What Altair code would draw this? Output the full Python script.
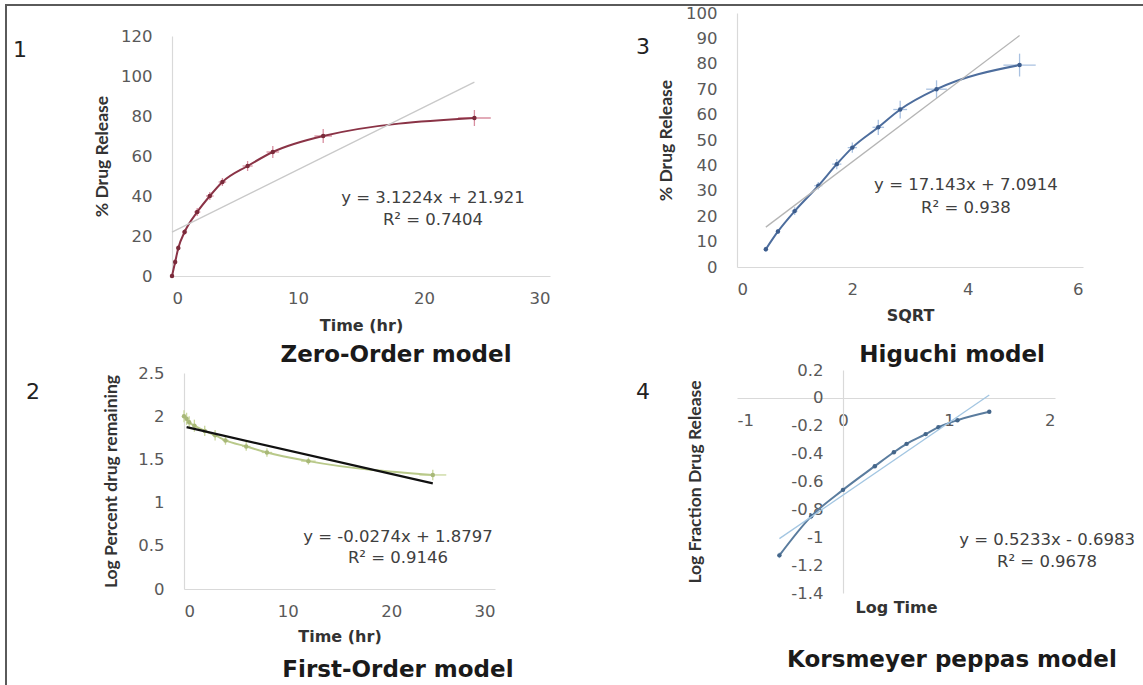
import altair as alt
import pandas as pd

W, H = 1143, 685

# ---------------- data ----------------
# Panel 1 : Zero-order model
time_hr = [0, 0.25, 0.5, 1, 2, 3, 4, 6, 8, 12, 24]
release_pct = [0, 7, 14, 22, 32, 40, 47, 55, 62, 70, 79]
release_err = [1.0, 1.5, 1.5, 1.5, 2.0, 2.0, 2.0, 2.5, 3.0, 3.5, 4.0]
time_err = [0.15, 0.15, 0.15, 0.2, 0.25, 0.3, 0.3, 0.4, 0.5, 0.7, 1.3]
zero_fit_x = [0, 24]
zero_fit_y = [21.9, 96.9]
zero_x_ticks = [0, 10, 20, 30]
zero_y_ticks = [0, 20, 40, 60, 80, 100, 120]

# Panel 2 : First-order model
log_remaining = [2.00, 1.97, 1.93, 1.89, 1.83, 1.78, 1.72, 1.65, 1.58, 1.48, 1.32]
log_remaining_err = [0.07, 0.07, 0.07, 0.07, 0.06, 0.06, 0.05, 0.05, 0.05, 0.04, 0.06]
first_fit_x = [0.25, 24]
first_fit_y = [1.873, 1.222]
first_x_ticks = [0, 10, 20, 30]
first_y_ticks = [0, 0.5, 1, 1.5, 2, 2.5]

# Panel 3 : Higuchi model
sqrt_time = [0.5, 0.71, 1.0, 1.41, 1.73, 2.0, 2.45, 2.83, 3.46, 4.9]
higuchi_release = [7, 14, 22, 32, 40.5, 47, 55, 62, 70, 79.5]
higuchi_err = [1.0, 1.0, 1.5, 1.5, 2.0, 2.0, 3.0, 3.5, 3.5, 4.5]
sqrt_err = [0.03, 0.03, 0.05, 0.07, 0.08, 0.08, 0.1, 0.12, 0.18, 0.28]
higuchi_fit_x = [0.5, 4.9]
higuchi_fit_y = [15.7, 91.1]
higuchi_x_ticks = [0, 2, 4, 6]
higuchi_y_ticks = [0, 10, 20, 30, 40, 50, 60, 70, 80, 90, 100]

# Panel 4 : Korsmeyer-Peppas model
log_time = [-0.60, -0.30, 0.0, 0.30, 0.48, 0.60, 0.78, 0.90, 1.08, 1.38]
log_fraction = [-1.13, -0.85, -0.66, -0.49, -0.39, -0.33, -0.26, -0.21, -0.16, -0.10]
log_fraction_err = [0.02, 0.02, 0.015, 0.01, 0.01, 0.01, 0.01, 0.01, 0.01, 0.01]
kp_fit_x = [-0.60, 1.38]
kp_fit_y = [-1.01, 0.02]
kp_x_ticks = [-1, 0, 1, 2]
kp_y_ticks = [-1.4, -1.2, -1, -0.8, -0.6, -0.4, -0.2, 0, 0.2]

# ---------------- styling ----------------
LABEL_FONT = "DejaVu Sans"
TITLE_FONT = "DejaVu Sans"
VTITLE_FONT = "Lato"
LABEL_EXPR = "'' + datum.value"


def xaxis(ticks, offset, title, title_y):
    return alt.Axis(values=ticks, orient="bottom", offset=offset, title=title,
                    labelExpr=LABEL_EXPR, titleY=title_y, titleBaseline="middle",
                    titleFont=TITLE_FONT, titleFontSize=16, titleFontWeight="bold",
                    titleColor="#333333", labelPadding=14, grid=False, ticks=False,
                    domainColor="#d9d9d9", domainWidth=1.2, labelFont=LABEL_FONT,
                    labelFontSize=16.5, labelColor="#595959")


def yaxis(ticks, offset, title, title_x):
    return alt.Axis(values=ticks, orient="left", offset=offset, title=title,
                    labelExpr=LABEL_EXPR, titleX=title_x, titleBaseline="middle",
                    titleFont=VTITLE_FONT, titleFontSize=17.5, titleFontWeight="bold",
                    titleColor="#333333", labelPadding=20, titleAngle=270, grid=False,
                    ticks=False, domainColor="#d9d9d9", domainWidth=1.2,
                    labelFont=LABEL_FONT, labelFontSize=16.5, labelColor="#595959")


def panel(xdom, xrng, ydom, yrng, xvals, yvals, xvals_err, yvals_err, fit_x, fit_y,
          ax_x, ax_y, curve_color, err_color, point_color, fit_color, fit_width,
          number, number_pos, title, title_pos, eq, eq_pos, r2_pos, hbars=True):
    pts = pd.DataFrame({"x": xvals, "y": yvals})
    pts["ylo"] = [v - e for v, e in zip(yvals, yvals_err)]
    pts["yhi"] = [v + e for v, e in zip(yvals, yvals_err)]
    pts["xlo"] = [v - e for v, e in zip(xvals, xvals_err)]
    pts["xhi"] = [v + e for v, e in zip(xvals, xvals_err)]
    fit = pd.DataFrame({"x": fit_x, "y": fit_y})

    def X(field="x", axis=None):
        return alt.X(f"{field}:Q", axis=axis,
                     scale=alt.Scale(domain=xdom, range=xrng, nice=False, zero=False))

    def Y(field="y", axis=None):
        return alt.Y(f"{field}:Q", axis=axis,
                     scale=alt.Scale(domain=ydom, range=yrng, nice=False, zero=False))

    layers = []
    layers.append(alt.Chart(fit).mark_point(opacity=0).encode(
        x=X(axis=ax_x), y=Y(axis=ax_y)))
    layers.append(alt.Chart(pts).mark_rule(color=err_color, strokeWidth=1.3).encode(
        x=X(), y=Y("ylo"), y2="yhi:Q"))
    if hbars:
        layers.append(alt.Chart(pts).mark_rule(color=err_color, strokeWidth=1.3).encode(
            y=Y(), x=X("xlo"), x2="xhi:Q"))
    layers.append(alt.Chart(pts).mark_line(color=curve_color, strokeWidth=2,
                                            interpolate="monotone").encode(x=X(), y=Y()))
    layers.append(alt.Chart(pts).mark_circle(color=point_color, size=20, opacity=1).encode(
        x=X(), y=Y()))
    layers.append(alt.Chart(fit).mark_line(color=fit_color, strokeWidth=fit_width).encode(
        x=X(), y=Y()))

    txt_num = pd.DataFrame({"x": [number_pos[0]], "y": [number_pos[1]], "t": [number]})
    layers.append(alt.Chart(txt_num).mark_text(font=LABEL_FONT, fontSize=22, color="#222222").encode(
        x=X(), y=Y(), text="t:N"))
    txt_title = pd.DataFrame({"x": [title_pos[0]], "y": [title_pos[1]], "t": [title]})
    layers.append(alt.Chart(txt_title).mark_text(font=TITLE_FONT, fontSize=23, fontWeight="bold",
                                                 color="#1a1a1a").encode(x=X(), y=Y(), text="t:N"))
    txt_eq = pd.DataFrame({"x": [eq_pos[0], r2_pos[0]], "y": [eq_pos[1], r2_pos[1]], "t": eq})
    layers.append(alt.Chart(txt_eq).mark_text(font=LABEL_FONT, fontSize=16.5, color="#404040").encode(
        x=X(), y=Y(), text="t:N"))
    return layers


# ---------------- panels ----------------
p1 = panel(
    [0, 30], [172, 550], [0, 120], [276, 36],
    time_hr, release_pct, time_err, release_err, zero_fit_x, zero_fit_y,
    xaxis(zero_x_ticks, 276 - H, "Time (hr)", 49),
    yaxis(zero_y_ticks, -172, "% Drug Release", -70),
    "#8a3346", "#d88fa0", "#7a2a3a", "#c9c9c9", 1.3,
    "1", (-12.06, 113), "Zero-Order model", (17.78, -39.5),
    ["y = 3.1224x + 21.921", "R² = 0.7404"], (20.71, 39), (20.71, 28))

p2 = panel(
    [0, 30], [184, 495], [0, 2.5], [589, 373],
    time_hr, log_remaining, time_err, log_remaining_err, first_fit_x, first_fit_y,
    xaxis(first_x_ticks, 589 - H, "Time (hr)", 47),
    yaxis(first_y_ticks, -184, "Log Percent drug remaining", -73),
    "#b9c98a", "#c9d79c", "#a8b878", "#111111", 2.2,
    "2", (-14.57, 2.28), "First-Order model", (20.64, -0.9375),
    ["y = -0.0274x + 1.8797", "R² = 0.9146"], (20.64, 0.602), (20.64, 0.359))

p3 = panel(
    [0, 6], [737, 1083], [0, 100], [267, 13],
    sqrt_time, higuchi_release, sqrt_err, higuchi_err, higuchi_fit_x, higuchi_fit_y,
    xaxis(higuchi_x_ticks, 267 - H, "SQRT", 48),
    yaxis(higuchi_y_ticks, -737, "% Drug Release", -71),
    "#4d6d9d", "#a9c1e0", "#3d5d8d", "#b5b5b5", 1.3,
    "3", (-1.63, 86.6), "Higuchi model", (3.73, -34.6),
    ["y = 17.143x + 7.0914", "R² = 0.938"], (3.97, 32.3), (3.97, 23.2))

p4 = panel(
    [-1, 2], [737, 1055], [-1.4, 0.2], [593, 370],
    log_time, log_fraction, [0] * len(log_time), log_fraction_err, kp_fit_x, kp_fit_y,
    xaxis(kp_x_ticks, 398 - H, "Log Time", 209),
    yaxis(kp_y_ticks, -843, "Log Fraction Drug Release", -148),
    "#5a7c9e", "#a6c4de", "#44668a", "#a3c6e2", 1.3,
    "4", (-1.887, 0.042), "Korsmeyer peppas model", (1.028, -1.881),
    ["y = 0.5233x - 0.6983", "R² = 0.9678"], (1.925, -1.019), (1.925, -1.177), hbars=False)

frame_top = alt.Chart(pd.DataFrame({"a": [0]})).mark_rule(color="#5a5a5a", strokeWidth=2).encode(
    x=alt.value(5), x2=alt.value(W), y=alt.value(5))
frame_left = alt.Chart(pd.DataFrame({"a": [0]})).mark_rule(color="#5a5a5a", strokeWidth=2).encode(
    x=alt.value(6), y=alt.value(5), y2=alt.value(H))

chart = alt.layer(*(p1 + p2 + p3 + p4), frame_top, frame_left).resolve_scale(
    x="independent", y="independent"
).resolve_axis(
    x="independent", y="independent"
).properties(
    width=W, height=H, autosize=alt.AutoSizeParams(type="none"), padding=0,
    background="white"
).configure_view(stroke=None)

chart.save("out.html", embed_options={"renderer": "svg", "actions": False})
